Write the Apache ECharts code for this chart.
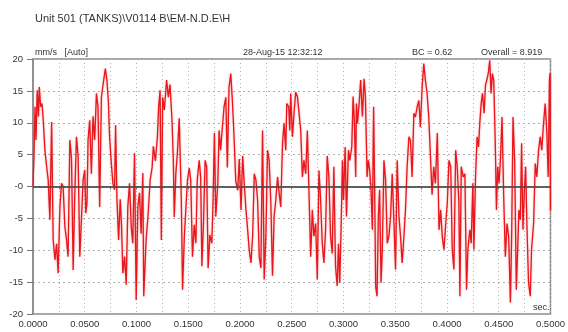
<!DOCTYPE html>
<html>
<head>
<meta charset="utf-8">
<script src="https://cdn.jsdelivr.net/npm/echarts@6/dist/echarts.min.js"></script>
<style>
  html, body { margin: 0; padding: 0; background: #fff; }
  #main { width: 568px; height: 332px; }
</style>
</head>
<body>
<div id="main"></div>
<script>
// waveform samples (sec, mm/s)
const sampleTimes = [
  0.0000, 0.0010, 0.0019, 0.0029, 0.0041, 0.0053, 0.0061, 0.0074, 0.0087, 0.0099,
  0.0115, 0.0132, 0.0147, 0.0163, 0.0180, 0.0195, 0.0212, 0.0228, 0.0243, 0.0260,
  0.0276, 0.0291, 0.0308, 0.0324, 0.0339, 0.0356, 0.0372, 0.0388, 0.0404, 0.0420,
  0.0436, 0.0452, 0.0468, 0.0484, 0.0500, 0.0510, 0.0522, 0.0532, 0.0548, 0.0564,
  0.0580, 0.0596, 0.0613, 0.0628, 0.0644, 0.0661, 0.0683, 0.0699, 0.0714, 0.0728,
  0.0740, 0.0757, 0.0772, 0.0788, 0.0798, 0.0811, 0.0827, 0.0843, 0.0856, 0.0868,
  0.0885, 0.0901, 0.0916, 0.0933, 0.0949, 0.0964, 0.0981, 0.0997, 0.1013, 0.1029,
  0.1045, 0.1061, 0.1070, 0.1093, 0.1113, 0.1132, 0.1151, 0.1163, 0.1183, 0.1202,
  0.1214, 0.1228, 0.1240, 0.1253, 0.1269, 0.1291, 0.1308, 0.1324, 0.1343, 0.1356,
  0.1365, 0.1380, 0.1394, 0.1413, 0.1433, 0.1445, 0.1462, 0.1478, 0.1493, 0.1510,
  0.1524, 0.1541, 0.1558, 0.1574, 0.1587, 0.1606, 0.1620, 0.1632, 0.1647, 0.1663,
  0.1678, 0.1692, 0.1709, 0.1728, 0.1740, 0.1753, 0.1766, 0.1786, 0.1798, 0.1813,
  0.1830, 0.1846, 0.1863, 0.1878, 0.1894, 0.1911, 0.1926, 0.1942, 0.1959, 0.1978,
  0.1993, 0.2010, 0.2026, 0.2041, 0.2058, 0.2074, 0.2089, 0.2106, 0.2122, 0.2138,
  0.2154, 0.2170, 0.2186, 0.2202, 0.2218, 0.2234, 0.2250, 0.2266, 0.2282, 0.2298,
  0.2314, 0.2330, 0.2346, 0.2363, 0.2378, 0.2394, 0.2411, 0.2426, 0.2442, 0.2452,
  0.2471, 0.2481, 0.2490, 0.2507, 0.2522, 0.2538, 0.2555, 0.2570, 0.2587, 0.2603,
  0.2618, 0.2635, 0.2651, 0.2666, 0.2683, 0.2699, 0.2714, 0.2731, 0.2747, 0.2763,
  0.2779, 0.2795, 0.2811, 0.2827, 0.2843, 0.2859, 0.2875, 0.2891, 0.2907, 0.2923,
  0.2939, 0.2952, 0.2964, 0.2978, 0.2990, 0.3000, 0.3016, 0.3029, 0.3048, 0.3061,
  0.3080, 0.3093, 0.3106, 0.3118, 0.3125, 0.3135, 0.3151, 0.3166, 0.3183, 0.3199,
  0.3212, 0.3228, 0.3240, 0.3253, 0.3266, 0.3279, 0.3291, 0.3301, 0.3311, 0.3324,
  0.3337, 0.3349, 0.3363, 0.3375, 0.3391, 0.3407, 0.3423, 0.3439, 0.3455, 0.3471,
  0.3488, 0.3503, 0.3519, 0.3536, 0.3551, 0.3567, 0.3584, 0.3599, 0.3615, 0.3632,
  0.3647, 0.3663, 0.3680, 0.3695, 0.3712, 0.3728, 0.3743, 0.3760, 0.3776, 0.3791,
  0.3808, 0.3824, 0.3839, 0.3856, 0.3872, 0.3888, 0.3907, 0.3923, 0.3939, 0.3955,
  0.3971, 0.3988, 0.4003, 0.4019, 0.4036, 0.4051, 0.4067, 0.4084, 0.4099, 0.4115,
  0.4125, 0.4138, 0.4157, 0.4173, 0.4189, 0.4202, 0.4221, 0.4234, 0.4250, 0.4260,
  0.4276, 0.4291, 0.4305, 0.4317, 0.4330, 0.4343, 0.4359, 0.4372, 0.4388, 0.4401,
  0.4413, 0.4426, 0.4439, 0.4452, 0.4468, 0.4478, 0.4490, 0.4503, 0.4516, 0.4532,
  0.4548, 0.4564, 0.4580, 0.4596, 0.4613, 0.4625, 0.4638, 0.4654, 0.4670, 0.4683,
  0.4695, 0.4709, 0.4721, 0.4734, 0.4747, 0.4760, 0.4772, 0.4788, 0.4805, 0.4817,
  0.4837, 0.4853, 0.4868, 0.4885, 0.4901, 0.4916, 0.4933, 0.4949, 0.4965, 0.4978,
  0.4990, 0.4997, 0.5000
];
const velocity = [
  0, 5, 12.5, 7.3, 15.1, 11, 15.6, 12.5, 13, 10.4,
  5.7, 3.1, 1, -5.2, 10.1, -8.4, -11.5, -9, -13.6, -3.2,
  0.5, 0, -6.3, -8.4, -11, 7.3, 4.5, -13.1, -1, 7.8,
  4.7, -11, -5.2, 1, 2.6, -4.2, -2.5, 7.3, 10.4, 2,
  11, 7.3, 14.6, 12.5, -3.2, 14, 16.7, 18.5, 16.7, 13.5,
  7.8, 3.6, 0.5, -0.5, 9.6, -2, -8.4, -2, -6.3, -13.6,
  -11, -15.4, -3.2, 0.5, -6.3, -8.9, 5.2, -17.8, -3.2, -1,
  -7.4, 2.1, -17.2, -8.4, -4.2, 1, 3, 6.3, 4, 7.8,
  12.5, 15.1, -8.4, 14, 12, 16.7, 14, 16, 10.4, 4,
  -4.8, 2, 5, 10.7, -2, -16.2, -8, -3.2, 1, 2.9,
  1, -11, -6, -8.9, 1, 4.1, 1.5, -12.5, -5.8, 4.1,
  3.1, -12.8, -7.6, -8.9, -2.1, 8.4, -4.7, 0.5, 8.8, 5.7,
  9.3, 12.5, 14, 3, 15.6, 17.7, 13.6, 8, 0.9, -0.6,
  4.3, -3.7, 4.8, 0.5, -3.7, -6.8, -9.9, -12, -7.8, 2,
  1, -2.1, -11, -12.8, 8.8, -14.6, -7.8, 5.7, 4.1, -2.6,
  -14, -4.7, -2.1, 1.5, -1, -3.2, 6.8, 9.9, 5.7, 13,
  12.5, 8.8, 14.6, 7.8, 11.5, 14.8, 14.1, 14.3, 8.8, 1.5,
  4.1, 2, 8.8, -0.5, -11, -3.7, -7.8, -5.8, -14.6, 2.5,
  -2.1, -8.9, -12, -6.8, 4.8, 1.5, -7.8, -10.5, 3.1, -12.5,
  -15.6, -9, -15.1, -5.8, 4.1, -2.1, 6.2, -4.7, 5.7, 4.1,
  6.2, 14.1, 9.9, 1.5, 13, 9.9, 13, 16.7, 11, 16.9,
  14.1, 1.5, 4.1, 2.6, -0.5, -6.8, 12.5, 0, -15.7, -17.2,
  -4.7, -0.5, -15.1, -9.9, 4.1, 1, -8.9, -7.8, -4.7, 2,
  -5.8, -13, 4.1, -4.7, -7.8, -12, -7.8, -3.7, 3.1, 7.8,
  7.3, 1.5, 11.5, 10.9, 12.5, 13.5, 9.3, 15.6, 19.3, 16.7,
  14.6, 10.9, 5.2, -1.3, 3.1, 0.5, 8.4, -6.8, -3.7, -8,
  -9.9, -5.8, -2.6, 4.1, 3.1, -9.9, -13, 5.7, 3.1, -2.6,
  -17.2, 3.1, 1.5, 2, -16.2, -9.9, -6.8, -8.9, 0.5, -9.9,
  1.5, 7.8, 6.2, 9.9, 13, 14.6, 11.5, 15.9, 16.9, 18,
  19.8, 14.6, 17.7, 16.7, 5.7, -3.7, 3.1, 0.5, 4.1, 10.9,
  -1.6, -11, -5.8, -7.8, -18.2, -7.8, 10.9, 4.1, -16.2, -9.9,
  -3.7, -5.2, 6.8, -6.8, -1, 3.1, -5.8, -15.1, -17.2, -9.9,
  -5.8, 3.6, 1.5, 5.7, 7.8, 5.7, 9.9, 13, 8.4, 1.5,
  16.7, 17.8, -3.8
];

const yTickValues = [-20, -15, -10, -5, 0, 5, 10, 15, 20];
const yTickLabels = ['-20', '-15', '-10', '-5', '-0', '5', '10', '15', '20'];
const xTickValues = [0, 0.05, 0.1, 0.15, 0.2, 0.25, 0.3, 0.35, 0.4, 0.45, 0.5];
const xTickLabels = ['0.0000', '0.0500', '0.1000', '0.1500', '0.2000', '0.2500',
  '0.3000', '0.3500', '0.4000', '0.4500', '0.5000'];

const titleText = 'Unit 501 (TANKS)\\V0114 B\\EM-N.D.E\\H';
const unitText = 'mm/s   [Auto]';
const dateText = '28-Aug-15 12:32:12';
const bcText = 'BC = 0.62';
const overallText = 'Overall = 8.919';

const FONT = '"Liberation Sans", Arial, sans-serif';

function pickLabel(values, labels, v) {
  for (let i = 0; i < values.length; i++) {
    if (Math.abs(values[i] - v) < 1e-6) return labels[i];
  }
  return '';
}

const points = sampleTimes.map((t, i) => [t, velocity[i]]);

const chart = echarts.init(document.getElementById('main'), null, { renderer: 'canvas' });

const textStyle = (size) => ({ fontFamily: FONT, fontSize: size, fill: '#333' });

chart.setOption({
  animation: false,
  backgroundColor: '#fff',
  grid: { left: 33, right: 15, top: 59, bottom: 18, show: true, borderColor: '#8a8a8a', borderWidth: 1.5 },
  xAxis: {
    type: 'value',
    min: 0,
    max: 0.5,
    interval: 0.05,
    axisLine: { show: true, lineStyle: { color: '#8a8a8a', width: 1.5 } },
    axisTick: { show: true, length: 3, lineStyle: { color: '#777' } },
    minorTick: { show: true, splitNumber: 2, length: 3, lineStyle: { color: '#777' } },
    splitLine: { show: true, lineStyle: { color: '#b0b0b0', type: [1, 3] } },
    minorSplitLine: { show: true, lineStyle: { color: '#b0b0b0', type: [1, 3] } },
    axisLabel: {
      color: '#333', fontFamily: FONT, fontSize: 9.5, margin: 5,
      formatter: (v) => pickLabel(xTickValues, xTickLabels, v)
    }
  },
  yAxis: {
    type: 'value',
    min: -20,
    max: 20,
    interval: 5,
    axisLine: { show: true, lineStyle: { color: '#8a8a8a', width: 1.5 } },
    axisTick: { show: true, length: 6, lineStyle: { color: '#777' } },
    splitLine: { show: true, lineStyle: { color: '#b0b0b0', type: [2, 3] } },
    axisLabel: {
      color: '#333', fontFamily: FONT, fontSize: 9.5, margin: 10,
      formatter: (v) => pickLabel(yTickValues, yTickLabels, v)
    }
  },
  series: [{
    type: 'line',
    data: points,
    showSymbol: false,
    lineStyle: { color: '#e8161d', width: 1.3, shadowColor: 'rgba(240,90,90,0.6)', shadowBlur: 2 },
    markLine: {
      silent: true,
      symbol: 'none',
      label: { show: false },
      lineStyle: { color: '#4a4a4a', width: 1.5, type: 'solid' },
      data: [{ yAxis: 0 }]
    },
    z: 3
  }],
  graphic: [
    { type: 'text', left: 35, top: 13, style: Object.assign({ text: titleText }, textStyle(11)) },
    { type: 'text', left: 35, top: 48, style: Object.assign({ text: unitText }, textStyle(9)) },
    { type: 'text', left: 243, top: 48, style: Object.assign({ text: dateText }, textStyle(9)) },
    { type: 'text', left: 412, top: 48, style: Object.assign({ text: bcText }, textStyle(9)) },
    { type: 'text', left: 481, top: 48, style: Object.assign({ text: overallText }, textStyle(9)) },
    { type: 'text', left: 533, top: 303, style: Object.assign({ text: 'sec.' }, textStyle(9)) }
  ]
});
</script>
</body>
</html>
